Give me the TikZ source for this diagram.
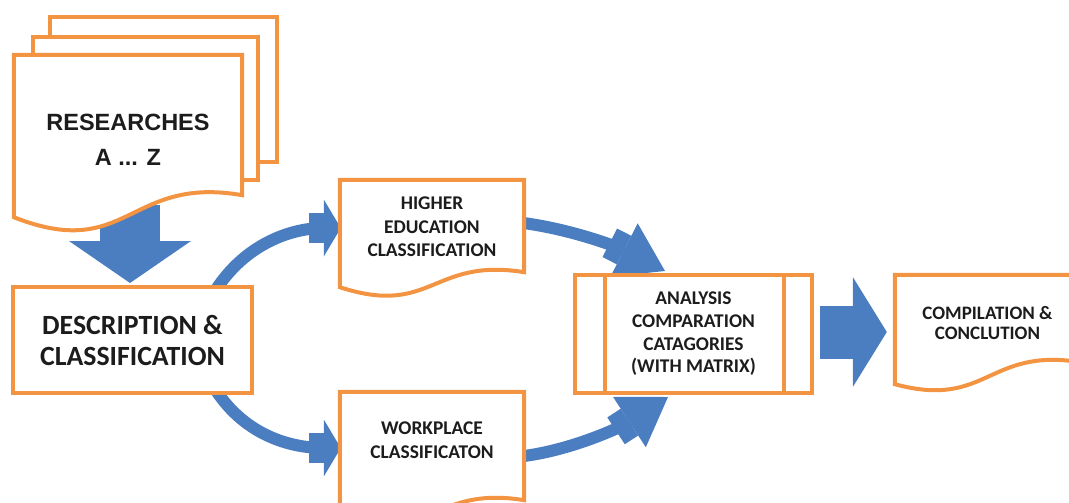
\documentclass[tikz,border=0pt]{standalone}
\usepackage{fontspec}
\setmainfont{Carlito}
\newfontfamily\arialf{Liberation Sans}
\usetikzlibrary{arrows.meta,calc}
\definecolor{orng}{HTML}{F39442}
\definecolor{blu}{HTML}{4A7EC1}
\definecolor{ink}{HTML}{1C1C1C}
\pgfdeclarelayer{bg}
\pgfdeclarelayer{mid}
\pgfsetlayers{bg,mid,main}
\newcommand\bigf{\bfseries\fontsize{27.8}{31}\selectfont}
\newcommand\resf{\arialf\bfseries\fontsize{23.5}{35}\selectfont}
\newcommand\smf{\bfseries\fontsize{19.4}{23.5}\selectfont}
\tikzset{
  box/.style={draw=orng, fill=white, line width=4pt, inner sep=0pt, align=center, text=ink},
  lbl/.style={inner sep=0pt, align=center, text=ink},
  docedge/.style={draw=orng, fill=white, line width=4pt},
  flow/.style={draw=blu, line width=12pt},
  tipleft/.style={-{Rectangle[length=15pt,width=30pt,sep=0pt,line width=0pt]Triangle[length=17pt,width=57pt,line width=0pt]}},
  tipright/.style={-{Rectangle[length=16pt,width=32pt,sep=0pt,line width=0pt]Triangle[length=46pt,width=60pt,line width=0pt]}},
}
% #1 node, #2 right-bottom offset below south, #3 left-bottom offset, #4 dip, #5 rise
\newcommand\docshape[5]{%
  \path[docedge] let \p1=(#1.north west), \p2=(#1.south east) in
    (\x1,\y1) -- (\x2,\y1) -- (\x2,{\y2-(#2)})
    .. controls ({(\x1+\x2)/2},{\y2-(#2)+(#5)}) and ({(\x1+\x2)/2},{\y2-(#3)-(#4)})
    .. (\x1,{\y2-(#3)}) -- cycle;}
\begin{document}
\begin{tikzpicture}[x=1pt,y=-1pt]
\useasboundingbox (0,0) rectangle (1069,503);
\clip (0,0) rectangle (1069,503);

% nodes
\node[lbl, minimum width=228pt, minimum height=170pt, font=\resf] (res) at (128,140) {RESEARCHES\\A ... Z};
\node[box, minimum width=239pt, minimum height=106pt, font=\bigf] (desc) at (132.5,340) {DESCRIPTION \&\\CLASSIFICATION};
\node[lbl, minimum width=184pt, minimum height=94pt, font=\smf] (hed) at (432,227) {HIGHER\\EDUCATION\\CLASSIFICATION};
\node[lbl, minimum width=184pt, minimum height=96pt, font=\smf] (wrk) at (432,440) {WORKPLACE\\CLASSIFICATON};
\node[box, minimum width=237pt, minimum height=118pt, font=\bfseries\fontsize{19.4}{22.7}\selectfont] (ana) at (693.5,334) {ANALYSIS\\COMPARATION\\CATAGORIES\\(WITH MATRIX)};
\node[lbl, minimum width=185pt, minimum height=96pt, font=\bfseries\fontsize{19}{20}\selectfont] (comp) at (987.5,323) {COMPILATION \&\\CONCLUTION};
\draw[orng, line width=4pt] ($(ana.north west)+(32,0)$) -- ($(ana.south west)+(32,0)$);
\draw[orng, line width=4pt] ($(ana.north east)+(-30,0)$) -- ($(ana.south east)+(-30,0)$);

% document shapes
\begin{pgfonlayer}{mid}
  \path[docedge] (50,17) rectangle (277,162);
  \path[docedge] (33,37) rectangle (258,180);
  \docshape{res}{-30}{-8}{45}{20}
  \docshape{hed}{-2}{13}{30}{15}
  \docshape{wrk}{12}{27}{30}{15}
  \docshape{comp}{-9}{13}{25}{15}
\end{pgfonlayer}

% connectors
\begin{pgfonlayer}{bg}
  \draw[draw=blu, line width=60pt, -{Triangle[length=42pt,width=122pt,line width=0pt]}]
    ($(res.south)+(2,-20)$) -- ($(desc.north)+(-2.5,-2)$);
  \draw[flow, tipleft] ($(desc.north east)+(-42,11)$) .. controls (242,245) and (290,228) .. ($(hed.west)+(1,1)$);
  \draw[flow, tipleft] ($(desc.south east)+(-42,-11)$) .. controls (242,435) and (290,448) .. ($(wrk.west)+(1,8)$);
  \draw[flow, tipright] ($(hed.east)+(-9,-5)$) .. controls (570,228) and (620,248) .. ($(ana.north west)+(92,-2)$);
  \draw[flow, tipright] ($(wrk.east)+(-9,17)$) .. controls (570,452) and (625,425) .. ($(ana.south west)+(95,2)$);
  \draw[draw=blu, line width=53pt, -{Triangle[length=34pt,width=110pt,line width=0pt]}]
    ($(ana.east)+(6,-2)$) -- ($(comp.west)+(-8,9)$);
\end{pgfonlayer}
\end{tikzpicture}
\end{document}
